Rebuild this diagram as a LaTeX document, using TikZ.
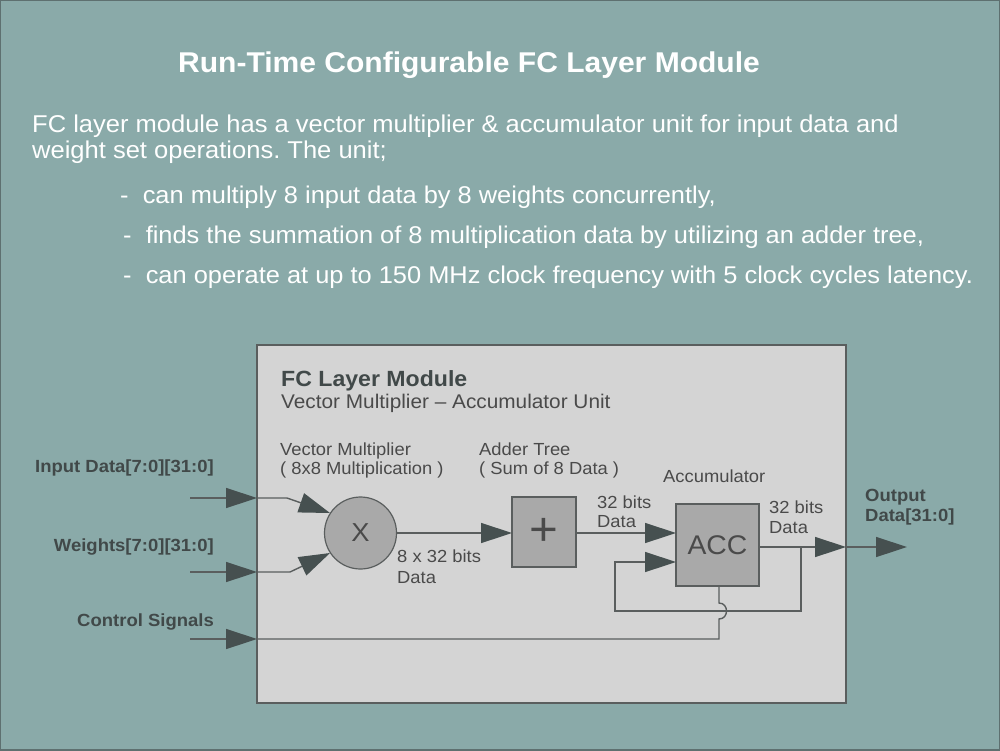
\documentclass[tikz,border=0pt]{standalone}
\usepackage{fontspec}
\setmainfont{Liberation Sans}[FakeStretch=1.05]
\usetikzlibrary{arrows.meta}
\frenchspacing
\definecolor{bg}{HTML}{8AAAA9}
\definecolor{frameln}{HTML}{5E7070}
\definecolor{modfill}{HTML}{D4D4D4}
\definecolor{boxfill}{HTML}{A9A9A9}
\definecolor{dtext}{HTML}{4A4A4A}
\definecolor{ltext}{HTML}{414949}
\definecolor{arrowc}{HTML}{465050}
\definecolor{linec}{HTML}{5A5E5E}
\tikzset{
  txt/.style={inner sep=0pt, anchor=base west, text=dtext},
  wtxt/.style={inner sep=0pt, anchor=base west, text=white},
  sig/.style={inner sep=0pt, anchor=base east, text=ltext, font=\fontsize{17.6}{20}\selectfont\bfseries},
  wire/.style={draw=linec, line width=1.4pt},
  arr/.style={wire, -{Triangle[length=31pt,width=20pt,fill=arrowc,color=arrowc]}},
  blk/.style={draw=linec, line width=1.2pt, fill=boxfill, inner sep=0pt, text=dtext},
}
\begin{document}
\begin{tikzpicture}[x=1pt,y=-1pt]
\useasboundingbox (0,0) rectangle (1000,750);
\fill[bg] (0,0) rectangle (1000,750);
\draw[frameln, line width=2pt] (0,0) rectangle (1000,750);

% title and description
\node[inner sep=0pt, anchor=base, text=white, font=\fontsize{28.6}{30}\selectfont\bfseries] (title) at (469,72) {Run-Time Configurable FC Layer Module};
\node[wtxt, font=\fontsize{24.3}{26}\selectfont] (p1) at (32,132) {FC layer module has a vector multiplier \& accumulator unit for input data and};
\node[wtxt, font=\fontsize{24.3}{26}\selectfont] (p2) at (32,158) {weight set operations. The unit;};
\node[wtxt, font=\fontsize{24.2}{26}\selectfont] (b1) at (120,203) {-\ \ can multiply 8 input data by 8 weights concurrently,};
\node[wtxt, font=\fontsize{24.2}{26}\selectfont] (b2) at (123,243) {-\ \ finds the summation of 8 multiplication data by utilizing an adder tree,};
\node[wtxt, font=\fontsize{24.2}{26}\selectfont] (b3) at (123,283) {-\ \ can operate at up to 150 MHz clock frequency with 5 clock cycles latency.};

% module box
\draw[draw=linec, line width=1.2pt, fill=modfill] (257,345) rectangle (846,703);
\node[txt, text=ltext, font=\fontsize{22}{24}\selectfont\bfseries] (mt) at (281,386) {FC Layer Module};
\node[txt, font=\fontsize{19.8}{22}\selectfont] (ms) at (281,408) {Vector Multiplier -- Accumulator Unit};

\node[txt, font=\fontsize{17.5}{20}\selectfont] (vm1) at (280,455) {Vector Multiplier};
\node[txt, font=\fontsize{17.5}{20}\selectfont] (vm2) at (280,474) {( 8x8 Multiplication )};
\node[txt, font=\fontsize{17.5}{20}\selectfont] (at1) at (479,455) {Adder Tree};
\node[txt, font=\fontsize{17.5}{20}\selectfont] (at2) at (479,474) {( Sum of 8 Data )};
\node[txt, font=\fontsize{17.5}{20}\selectfont] (accl) at (663,482) {Accumulator};

% blocks
\node[blk, circle, minimum size=72pt, font=\fontsize{26}{26}\selectfont] (mul) at (360.5,533) {X};
\node[blk, minimum width=64pt, minimum height=70pt, font=\fontsize{47}{47}\selectfont] (add) at (544,532) {+};
\node[blk, minimum width=83pt, minimum height=82pt, font=\fontsize{27}{27}\selectfont] (acc) at (717.5,545) {ACC};

% signal labels
\node[sig] (lin) at (214,472) {Input Data[7:0][31:0]};
\node[sig] (lw) at (214,551) {Weights[7:0][31:0]};
\node[sig] (lc) at (214,626) {Control Signals};
\node[inner sep=0pt, anchor=base west, text=ltext, font=\fontsize{17.6}{20}\selectfont\bfseries] (lo1) at (865,501) {Output};
\node[inner sep=0pt, anchor=base west, text=ltext, font=\fontsize{17.6}{20}\selectfont\bfseries] (lo2) at (865,521) {Data[31:0]};

% data labels
\node[txt, font=\fontsize{17.5}{20}\selectfont] (d1a) at (397,562) {8 x 32 bits};
\node[txt, font=\fontsize{17.5}{20}\selectfont] (d1b) at (397,583) {Data};
\node[txt, font=\fontsize{17.5}{20}\selectfont] (d2a) at (597,508) {32 bits};
\node[txt, font=\fontsize{17.5}{20}\selectfont] (d2b) at (597,527) {Data};
\node[txt, font=\fontsize{17.5}{20}\selectfont] (d3a) at (769,513) {32 bits};
\node[txt, font=\fontsize{17.5}{20}\selectfont] (d3b) at (769,533) {Data};

% coordinates
\coordinate (inS) at (190,498);
\coordinate (inB) at (257,498);
\coordinate (inK) at (287,498);
\coordinate (inT) at (330,513);
\coordinate (wS) at (190,572);
\coordinate (wB) at (257,572);
\coordinate (wK) at (290,572);
\coordinate (wT) at (330,553);
\coordinate (cS) at (190,639);
\coordinate (cB) at (257,639);
\coordinate (cK) at (719,639);
\coordinate (hopA) at (719,619);
\coordinate (hopB) at (719,603);
\coordinate (cT) at (719,586);
\coordinate (oA) at (759,547);
\coordinate (oJ) at (801,547);
\coordinate (oB) at (846,547);
\coordinate (oT) at (907,547);
\coordinate (fb1) at (801,611);
\coordinate (fb2) at (615,611);
\coordinate (fb3) at (615,562);
\coordinate (fbT) at (676,562);
\coordinate (m1) at (396.5,533);
\coordinate (m2) at (512,533);
\coordinate (a1) at (576,533);
\coordinate (a2) at (676,533);

% connectors
\draw[arr] (inS) -- (inB);
\draw[arr] (inB) -- (inK) -- (inT);
\draw[arr] (wS) -- (wB);
\draw[arr] (wB) -- (wK) -- (wT);
\draw[arr] (cS) -- (cB);
\draw[wire] (cB) -- (cK) -- (hopA) .. controls (729,619) and (729,603) .. (hopB) -- (cT);
\draw[arr] (m1) -- (m2);
\draw[arr] (a1) -- (a2);
\draw[arr] (oA) -- (oB);
\draw[arr] (oB) -- (oT);
\draw[arr] (oJ) -- (fb1) -- (fb2) -- (fb3) -- (fbT);
\end{tikzpicture}
\end{document}
